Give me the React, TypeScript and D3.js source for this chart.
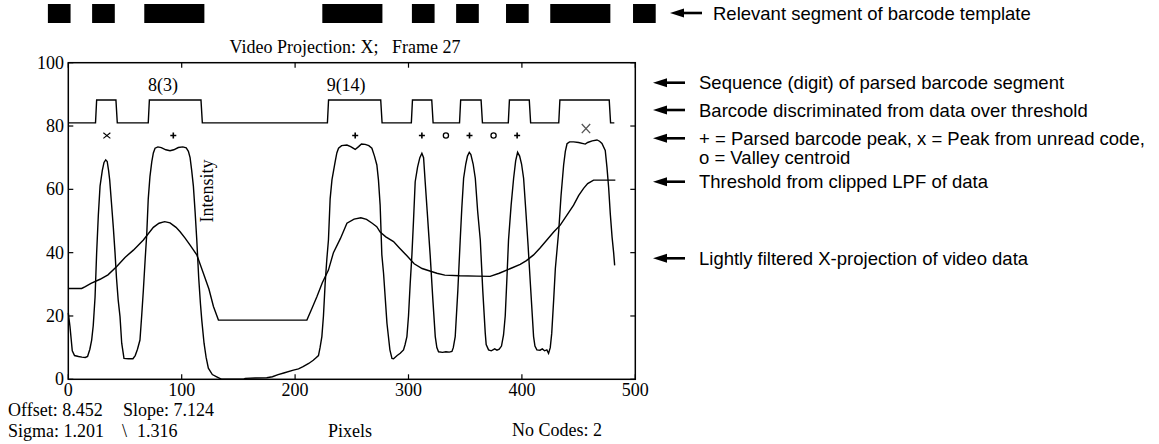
import React from 'react';
import * as d3 from 'd3';

const W = 1159;
const H = 444;

// barcode template segments, in pixel units of the x axis
const templateBars: [number, number][] = [
  [-18, 2], [21, 41], [67, 120], [224, 277], [303, 323],
  [342, 362], [386, 406], [425, 478], [498, 518],
];

// barcode discriminated over threshold: [rise, fall]
const barcodeEdges: [number, number][] = [
  [24, 42], [70.5, 117], [228.5, 275.5], [302.5, 320.5],
  [345, 364], [388, 406.5], [432.5, 477],
];
const barcodeLow = 81;
const barcodeHigh = 88.2;
const barcodeEnd = 481.5;

const digitLabels = [
  { x: 83.6, label: '8(3)' },
  { x: 245, label: '9(14)' },
];

const markerLevel = 77;
const parsedPeaks = [92.6, 253, 311.8, 353.8, 395.8];
const valleyCentroids = [333, 375];
const unreadPeaks = [
  { x: 34, y: 77, big: false },
  { x: 456.5, y: 79.2, big: true },
];

// lightly filtered X-projection of video data
const intensity: [number, number][] = [
  [0, 21], [1.5, 16.6], [3.5, 9], [5.5, 7.5], [9, 7.2], [12, 7], [15, 6.9], [17, 7.2],
  [19, 9.5], [20.6, 12.4], [22, 17], [23.6, 26], [25, 40], [26.5, 52], [28, 61], [30, 66],
  [31.5, 68.5], [33, 69.3], [34.3, 68.8], [35.5, 66], [36.5, 63], [38, 56], [39.7, 48],
  [41.2, 40], [42.5, 32], [44, 25], [45.6, 19.8], [47.1, 11.4], [49.1, 6.6], [53, 6.5],
  [57, 6.5], [59, 7.5], [61, 9.5], [63.2, 12.4], [64.7, 20], [66.2, 28.2], [67.8, 38],
  [69.2, 46], [70.5, 57], [72, 64], [73.6, 68.7], [75, 71.5], [76.5, 73], [79, 73.4],
  [82, 73.2], [86, 72.5], [89.7, 72.2], [93, 72.5], [97, 73.2], [101, 73.4], [104, 73.1],
  [105.9, 72], [107.4, 70], [108.8, 66], [110.3, 61], [111.8, 53], [113.3, 44], [115, 32],
  [116.5, 24], [117.7, 18.7], [119.7, 11.4], [121.5, 7], [123.5, 3.5], [127, 1.5],
  [130.9, 0.8], [135.3, 0], [145, 0], [154.4, 0], [156, 0.3], [165, 0.4], [175, 0.5],
  [180, 0.8], [185, 1.5], [190, 2], [198.5, 2.9], [203, 3.3], [207, 4], [212, 5], [216, 6],
  [218.5, 6.8], [220.6, 7.5], [222, 10], [223.6, 13.5], [225, 20], [226.5, 30.3], [228, 38],
  [229.4, 44], [230.9, 57], [232.5, 63], [235.3, 68.7], [236.8, 71.5], [238.3, 73],
  [241, 73.8], [245.7, 74], [249, 73.5], [253, 72.6], [256, 73.5], [258.5, 74.3],
  [261.8, 74.2], [265, 73.8], [267.7, 73], [270, 70.5], [272.1, 67.7], [273.5, 63],
  [275, 55], [276.5, 39.3], [278, 33.5], [281, 17.7], [283.6, 9.3], [285.4, 6.6],
  [286.8, 6.5], [290, 7.5], [292.7, 8.2], [295.6, 9.3], [297, 11], [298.6, 13.5], [300, 20],
  [301.5, 30.3], [303, 39.3], [304.4, 50], [305.9, 62.4], [308, 67], [310, 70], [311.8, 71.4],
  [313.3, 70], [314.7, 62.4], [316.5, 53], [318, 45], [319.1, 39.3], [321.5, 25],
  [323.6, 13.5], [325, 10], [326.5, 8.7], [330, 8.5], [333, 8.7], [336, 8.6], [338.3, 8.8],
  [339.5, 10], [341.2, 13.5], [343.5, 28], [345.6, 44], [347, 54], [348.6, 63.5],
  [350.5, 68], [352, 70.5], [353.6, 71.7], [355, 71], [357, 68], [358.9, 63.5], [361, 53],
  [363.3, 44], [365.5, 28], [367.7, 14.5], [368.5, 11], [370.6, 9.3], [373, 9], [376, 9.6],
  [378, 9.2], [380, 9.5], [382, 10.5], [383.8, 14], [385.3, 20], [386.8, 32], [388.2, 44],
  [390.5, 55], [392.7, 63.5], [394.5, 69], [396.2, 71.7], [398, 70.5], [399.7, 68],
  [401.5, 63.5], [403.5, 53], [405.5, 42], [407.5, 30], [410.3, 13.5], [411.5, 10.5],
  [413.2, 9.3], [416, 9.2], [418, 9.6], [420, 9], [422, 9.3], [423.5, 8.2], [425, 10],
  [426.3, 14.5], [428, 25], [429.5, 35], [431, 41], [432.5, 47], [434.5, 58], [436.8, 67.7],
  [438.3, 72], [439.8, 74.4], [442, 75], [445.6, 75], [450, 74.8], [455.9, 74.3],
  [458, 74.8], [462, 75.3], [466.2, 75.6], [468.5, 75.2], [470.6, 74.5], [473.5, 72.3],
  [475, 67], [476.5, 60.5], [478, 52], [479.5, 45], [480.9, 40], [481.8, 36],
];

// threshold from clipped LPF of data
const threshold: [number, number][] = [
  [0, 28.7], [11.8, 28.7], [15, 29.3], [20, 30.3], [28, 31.6], [35, 33], [42.7, 35.6],
  [50, 38.5], [57.4, 40.8], [66.2, 44], [75, 48], [80, 49.3], [85, 49.8], [89.7, 49.4],
  [95, 48], [98.6, 46.6], [103, 44.6], [107.4, 42.4], [113.3, 39.3], [119.1, 33.5],
  [124, 28.5], [128, 23], [132.4, 18.7], [210.4, 18.7], [215, 22.5], [219.2, 26.1],
  [224, 30.5], [229.4, 34.5], [233.8, 40], [240, 44.5], [245.7, 49.3], [252, 50.6],
  [258, 51], [263, 50.5], [268, 49.3], [272, 48.2], [275, 46.5], [280, 45], [286.8, 43.5],
  [292, 41.5], [298.6, 39], [305, 36.5], [312, 35], [318.8, 34.2], [325, 33.5], [332, 32.9],
  [345, 32.7], [360, 32.6], [372, 32.5], [380, 33.5], [390, 35], [398.5, 36.3],
  [404, 37.5], [410.3, 39.3], [416, 41.5], [422, 44], [428, 46.5], [433.8, 48.7],
  [440, 52], [445.6, 55], [450, 58], [454.4, 60.3], [458, 61.8], [463.2, 62.9],
  [482.4, 62.9],
];

const xTicks = [0, 100, 200, 300, 400, 500];
const yTicks = [0, 20, 40, 60, 80, 100];

const annotations = [
  { y: 82.7, text: 'Sequence (digit) of parsed barcode segment', arrow: true },
  { y: 110, text: 'Barcode discriminated from data over threshold', arrow: true },
  { y: 138.3, text: '+ = Parsed barcode peak, x = Peak from unread code,', arrow: true },
  { y: 157, text: 'o = Valley centroid', arrow: false },
  { y: 181.7, text: 'Threshold from clipped LPF of data', arrow: true },
  { y: 258.3, text: 'Lightly filtered X-projection of video data', arrow: true },
];

const serif = '"Liberation Serif", "Times New Roman", serif';
const sans = '"Liberation Sans", Arial, sans-serif';

function Arrow({ x, y, len }: { x: number; y: number; len: number }) {
  return (
    <g>
      <path d={`M${x},${y} L${x + 14},${y - 4.5} L${x + 14},${y + 4.5} Z`} fill="#000" />
      <line x1={x + 12} x2={x + len} y1={y} y2={y} stroke="#000" strokeWidth={2.6} />
    </g>
  );
}

export default function App() {
  const x = d3.scaleLinear().domain([0, 500]).range([68.3, 635.3]);
  const y = d3.scaleLinear().domain([0, 100]).range([379.3, 62.7]);
  const [x0, x1] = x.range();
  const [y0, y1] = y.range();

  const line = d3.line<[number, number]>().x((d) => x(d[0])).y((d) => y(d[1]));

  const barcodePts: [number, number][] = [[0, barcodeLow]];
  barcodeEdges.forEach(([r, f]) => {
    barcodePts.push([r, barcodeLow], [r + 1, barcodeHigh], [f, barcodeHigh], [f + 1.2, barcodeLow]);
  });
  barcodePts.push([barcodeEnd, barcodeLow]);

  const tickLen = 5;

  return (
    <div style={{ position: 'absolute', left: 0, top: 0 }}>
      <svg width={W} height={H} style={{ display: 'block', background: '#fff' }}>
        {/* barcode template */}
        {templateBars.map(([a, b], i) => (
          <rect key={i} x={x(a)} y={4} width={x(b) - x(a)} height={19} fill="#000" />
        ))}
        <Arrow x={670} y={13} len={32} />
        <text x={713} y={13} dominantBaseline="central" fontFamily={sans} fontSize={18.5}>
          Relevant segment of barcode template
        </text>

        {/* title */}
        <text x={345} y={53} textAnchor="middle" fontFamily={serif} fontSize={18} style={{ whiteSpace: 'pre' }}>
          {'Video Projection: X;   Frame 27'}
        </text>

        {/* frame */}
        <rect x={x0} y={y1} width={x1 - x0} height={y0 - y1} fill="none" stroke="#000" strokeWidth={1.5} />
        {xTicks.map((t) => (
          <g key={'x' + t}>
            <line x1={x(t)} x2={x(t)} y1={y0} y2={y0 - tickLen} stroke="#000" strokeWidth={1.2} />
            <line x1={x(t)} x2={x(t)} y1={y1} y2={y1 + tickLen} stroke="#000" strokeWidth={1.2} />
            <text x={x(t)} y={396} textAnchor="middle" fontFamily={serif} fontSize={18}>
              {t}
            </text>
          </g>
        ))}
        {yTicks.map((t) => (
          <g key={'y' + t}>
            <line x1={x0} x2={x0 + tickLen} y1={y(t)} y2={y(t)} stroke="#000" strokeWidth={1.2} />
            <line x1={x1} x2={x1 - tickLen} y1={y(t)} y2={y(t)} stroke="#000" strokeWidth={1.2} />
            <text x={64} y={y(t)} textAnchor="end" dominantBaseline="central" fontFamily={serif} fontSize={18}>
              {t}
            </text>
          </g>
        ))}

        {/* curves */}
        <path d={line(threshold) || ''} fill="none" stroke="#000" strokeWidth={1.4} />
        <path d={line(intensity) || ''} fill="none" stroke="#000" strokeWidth={1.4} />
        <path d={line(barcodePts) || ''} fill="none" stroke="#000" strokeWidth={1.4} />

        {/* digit labels */}
        {digitLabels.map((d) => (
          <text key={d.label} x={x(d.x)} y={y(91)} textAnchor="middle" fontFamily={serif} fontSize={18}>
            {d.label}
          </text>
        ))}

        {/* markers */}
        {parsedPeaks.map((p) => (
          <path key={'p' + p} transform={`translate(${x(p)},${y(markerLevel)})`} d="M-3,0H3M0,-3V3" stroke="#000" strokeWidth={1.6} />
        ))}
        {valleyCentroids.map((v) => (
          <circle key={'v' + v} cx={x(v)} cy={y(markerLevel)} r={2.6} fill="none" stroke="#000" strokeWidth={1.3} />
        ))}
        {unreadPeaks.map((u) => {
          const hw = u.big ? 4.2 : 3.5;
          const hh = u.big ? 4.6 : 2.8;
          return (
            <path
              key={'u' + u.x}
              transform={`translate(${x(u.x)},${y(u.y)})`}
              d={`M${-hw},${-hh}L${hw},${hh}M${-hw},${hh}L${hw},${-hh}`}
              stroke={u.big ? '#555' : '#000'}
              strokeWidth={u.big ? 1.3 : 1.1}
            />
          );
        })}

        {/* axis label */}
        <text transform="translate(213,191) rotate(-90)" textAnchor="middle" fontFamily={serif} fontSize={18}>
          Intensity
        </text>
        <text x={350} y={437} textAnchor="middle" fontFamily={serif} fontSize={18}>
          Pixels
        </text>

        {/* statistics */}
        <text x={8} y={416} fontFamily={serif} fontSize={18}>Offset: 8.452</text>
        <text x={123} y={416} fontFamily={serif} fontSize={18}>Slope: 7.124</text>
        <text x={8} y={437} fontFamily={serif} fontSize={18}>Sigma: 1.201</text>
        <text x={122} y={437} fontFamily={serif} fontSize={18}>\</text>
        <text x={137} y={437} fontFamily={serif} fontSize={18}>1.316</text>
        <text x={512} y={436} fontFamily={serif} fontSize={18}>No Codes: 2</text>

        {/* annotations */}
        {annotations.map((a) => (
          <g key={a.text}>
            {a.arrow && <Arrow x={653} y={a.y} len={32} />}
            <text x={699} y={a.y} dominantBaseline="central" fontFamily={sans} fontSize={18.5}>
              {a.text}
            </text>
          </g>
        ))}
      </svg>
    </div>
  );
}
